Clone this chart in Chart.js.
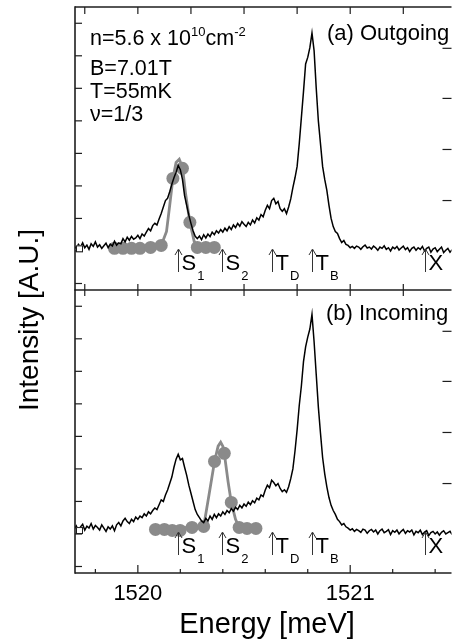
<!DOCTYPE html>
<html>
<head>
<meta charset="utf-8">
<script src="https://cdn.jsdelivr.net/npm/chart.js@4.4.1/dist/chart.umd.min.js"></script>
<style>
html,body{margin:0;padding:0;background:#fff;overflow:hidden;width:458px;height:639px}
canvas{position:absolute;left:0;top:0}
</style>
</head>
<body>
<canvas id="topPanel" width="458" height="639"></canvas>
<canvas id="botPanel" width="458" height="639"></canvas>
<script>
// energy grid of the measured spectra (meV)
const E_START = 1519.70;
const E_STEP = 0.01;

// (a) outgoing spectrum, intensity [A.U.]
const outgoing = [
  1.15,1.08,1.20,1.12,1.25,1.10,1.18,1.05,1.22,1.14,
  1.28,1.12,1.19,1.08,1.16,1.24,1.10,1.21,1.15,1.30,
  1.18,1.25,1.22,1.38,1.28,1.42,1.33,1.45,1.36,1.40,
  1.48,1.38,1.52,1.46,1.58,1.69,1.62,1.78,1.85,1.80,
  1.98,2.15,2.35,2.55,2.62,2.82,3.05,3.25,3.42,3.63,
  3.50,3.20,2.70,2.40,2.10,1.85,1.62,1.45,1.38,1.46,
  1.35,1.50,1.40,1.52,1.44,1.58,1.50,1.62,1.55,1.66,
  1.58,1.70,1.62,1.75,1.66,1.80,1.72,1.85,1.76,1.90,
  1.82,1.75,1.88,1.80,1.95,1.86,2.02,1.95,2.12,2.05,
  2.25,2.40,2.30,2.55,2.62,2.45,2.52,2.30,2.22,2.30,
  2.15,2.35,2.60,2.95,3.25,3.60,4.30,5.10,5.90,6.75,
  6.95,7.25,7.70,7.15,6.00,5.00,4.30,3.60,3.20,2.86,
  2.40,2.00,1.75,1.60,1.54,1.38,1.26,1.32,1.20,1.17,
  1.10,1.14,1.08,1.15,1.12,1.05,1.13,1.18,1.09,1.12,
  1.06,1.15,1.10,1.02,1.12,1.08,1.16,1.05,1.10,1.00,
  1.12,1.07,1.14,1.03,1.09,1.15,1.04,1.10,0.98,1.08,
  1.12,1.02,1.10,1.05,1.14,1.00,1.08,1.12,0.96,1.06,
  1.10,0.98,1.05,1.12,0.95,1.02,1.08,0.96,1.04
];

// (b) incoming spectrum, intensity [A.U.]
const incoming = [
  1.15,1.25,1.10,1.22,1.30,1.12,1.24,1.18,1.32,1.15,
  1.26,1.20,1.12,1.28,1.18,1.08,1.22,1.15,1.25,1.10,
  1.28,1.35,1.25,1.40,1.48,1.38,1.32,1.45,1.38,1.52,
  1.45,1.55,1.50,1.62,1.55,1.68,1.62,1.72,1.80,1.75,
  1.90,2.05,2.00,2.20,2.35,2.55,2.75,3.05,3.30,3.45,
  3.28,3.32,3.05,2.80,2.50,2.25,2.00,1.75,1.60,1.50,
  1.40,1.35,1.48,1.40,1.55,1.45,1.60,1.50,1.62,1.55,
  1.68,1.60,1.72,1.65,1.78,1.70,1.82,1.75,1.88,1.80,
  1.92,1.85,1.98,1.90,2.02,1.96,2.10,2.05,2.20,2.15,
  2.35,2.50,2.42,2.65,2.58,2.48,2.55,2.40,2.30,2.36,
  2.28,2.45,2.70,3.00,3.55,4.20,4.95,5.55,6.30,6.75,
  7.05,7.30,7.75,6.90,5.90,4.90,4.10,3.35,2.85,2.45,
  2.12,1.88,1.72,1.60,1.45,1.38,1.28,1.32,1.22,1.18,
  1.12,1.16,1.08,1.14,1.10,1.05,1.15,1.12,1.02,1.10,
  1.14,1.06,1.12,1.00,1.10,1.15,1.04,1.08,1.13,0.98,
  1.10,1.05,1.12,1.00,1.08,1.14,1.02,1.10,1.06,1.12,
  0.97,1.08,1.04,1.12,0.98,1.06,1.10,0.95,1.04,1.08,
  1.00,1.06,0.96,1.05,1.10,1.00,1.04,1.08,0.98
];

// grey points and fitted line, S1 (outgoing) and S2 (incoming)
const dotsS1E = [1519.89,1519.93,1519.97,1520.01,1520.06,1520.11,1520.165,1520.21,1520.245,1520.28,1520.32,1520.36];
const dotsS1I = [1.08,1.08,1.08,1.08,1.11,1.17,3.23,3.54,1.88,1.11,1.11,1.11];
const fitS1E = [1519.89,1520.11,1520.135,1520.15,1520.165,1520.18,1520.195,1520.21,1520.225,1520.245,1520.265,1520.28,1520.36];
const fitS1I = [1.08,1.17,1.60,2.40,3.23,3.72,3.82,3.58,2.75,1.88,1.30,1.11,1.11];

const dotsS2E = [1520.083,1520.125,1520.162,1520.199,1520.255,1520.31,1520.361,1520.407,1520.44,1520.477,1520.514,1520.556];
const dotsS2I = [1.14,1.14,1.11,1.11,1.20,1.23,3.23,3.48,1.97,1.20,1.17,1.17];
const fitS2E = [1520.083,1520.31,1520.335,1520.361,1520.378,1520.39,1520.40,1520.407,1520.425,1520.44,1520.46,1520.477,1520.556];
const fitS2I = [1.14,1.23,2.20,3.23,3.70,3.82,3.70,3.48,2.60,1.97,1.45,1.20,1.17];

// baseline offset marks on the left axis
const offsetTop = 1.08;
const offsetBot = 1.12;

// axis ticks
const xMin = 1519.704, xMax = 1521.477;
const xLabelTicks = [1520, 1521];
const xMinorTicks = [1519.8, 1520.2, 1520.4, 1520.6, 1520.8, 1521.2, 1521.4];
const xFrameTicks = [1519.75, 1520, 1520.25, 1520.5, 1520.75, 1521, 1521.25];
const yLeftTicks = [0, 1, 2, 3, 4, 5, 6, 7, 8];
const yRightTicks = [2.55, 4.12, 5.69, 7.23];

// line markers under the spectra
const markE = [1520.19, 1520.398, 1520.63, 1520.82, 1521.35];
const markMain = ['S', 'S', 'T', 'T', 'X'];
const markSub = ['1', '2', 'D', 'B', ''];

const energies = outgoing.map((_, i) => +(E_START + i * E_STEP).toFixed(3));
const pts = (xs, ys) => xs.map((x, i) => ({x, y: ys[i]}));

const FONT = '"Liberation Sans", Arial, sans-serif';
const GREY = '#8a8a8a';
const INK = '#1e1e1e';

function runs(ctx, list, x, y){
  list.forEach(r=>{
    ctx.font = r[1] + 'px ' + FONT;
    ctx.fillText(r[0], x, y + (r[2]||0));
    x += ctx.measureText(r[0]).width + (r[3]||0);
  });
}
function seg(ctx, x0, y0, x1, y1){ ctx.beginPath(); ctx.moveTo(x0, y0); ctx.lineTo(x1, y1); ctx.stroke(); }

const framePlugin = {
  id: 'frame',
  afterDatasetsDraw(chart, args, opts){
    const {ctx, chartArea: a, scales: {x, y}} = chart;
    ctx.save();
    ctx.strokeStyle = INK; ctx.fillStyle = '#000';
    ctx.lineWidth = 1.6;
    seg(ctx, a.left, a.top - 0.8, a.left, a.bottom + 0.8);
    ctx.lineWidth = 1.2;
    yLeftTicks.forEach(v=>{ const p = y.getPixelForValue(v); seg(ctx, a.left, p, a.left + 7, p); });
    yRightTicks.forEach(v=>{ const p = y.getPixelForValue(v); seg(ctx, a.right - 9, p, a.right, p); });
    if(opts.panel === 'top'){
      ctx.lineWidth = 1.6;
      seg(ctx, a.left, a.top, a.right, a.top);
      seg(ctx, a.left, a.bottom, a.right, a.bottom);
      ctx.lineWidth = 1.2;
      xFrameTicks.forEach(v=>{ const p = x.getPixelForValue(v); seg(ctx, p, a.top, p, a.top + 7); seg(ctx, p, a.bottom - 6, p, a.bottom + 6); });
    } else {
      ctx.lineWidth = 1.6;
      seg(ctx, a.left, a.bottom, a.right, a.bottom);
      ctx.lineWidth = 1.2;
      xLabelTicks.forEach(v=>{ const p = x.getPixelForValue(v); seg(ctx, p, a.bottom, p, a.bottom - 8); });
      xMinorTicks.forEach(v=>{ const p = x.getPixelForValue(v); seg(ctx, p, a.bottom, p, a.bottom - 4); });
      ctx.textAlign = 'center';
      ctx.font = '22px ' + FONT;
      xLabelTicks.forEach(v=>{ ctx.fillText(String(v), x.getPixelForValue(v), a.bottom + 27); });
      ctx.font = '29px ' + FONT;
      ctx.fillText('Energy [meV]', 267, 633);
      ctx.save();
      ctx.translate(38, 320); ctx.rotate(-Math.PI / 2);
      ctx.font = '28px ' + FONT;
      ctx.fillText('Intensity [A.U.]', 0, 0);
      ctx.restore();
      ctx.textAlign = 'left';
    }
    // baseline offset mark
    const oy = y.getPixelForValue(opts.offset);
    ctx.lineWidth = 1; ctx.fillStyle = '#fff';
    ctx.fillRect(76, oy - 3, 6, 6); ctx.strokeRect(76.5, oy - 2.5, 6, 6);
    ctx.fillStyle = '#000';
    // arrows with line names
    const base = a.bottom - 20;
    markE.forEach((e, i)=>{
      const p = Math.round(x.getPixelForValue(e)) + 0.5;
      ctx.strokeStyle = '#333'; ctx.lineWidth = 1;
      seg(ctx, p, base + 2, p, base - 20);
      ctx.beginPath(); ctx.moveTo(p - 3.5, base - 15); ctx.lineTo(p, base - 21); ctx.lineTo(p + 3.5, base - 15); ctx.stroke();
      runs(ctx, [[markMain[i], 22, 0, 1], [markSub[i], 13, 10]], p + 3, base);
    });
    // panel texts
    if(opts.panel === 'top'){
      runs(ctx, [['n=5.6 x 10', 21.5], ['10', 13, -9], ['cm', 21.5], ['-2', 13, -9]], 90, 45);
      runs(ctx, [['B=7.01T', 21.5]], 90, 75);
      runs(ctx, [['T=55mK', 21.5]], 90, 98);
      runs(ctx, [['\u03bd=1/3', 21.5]], 90, 121);
      runs(ctx, [['(a) Outgoing', 22]], 327, 40);
    } else {
      runs(ctx, [['(b) Incoming', 22]], 326, 320);
    }
    ctx.restore();
  }
};

function panel(canvasId, spectrum, fitE, fitI, dotE, dotI, pad, name, offset){
  return new Chart(document.getElementById(canvasId), {
    type: 'line',
    data: {
      datasets: [
        { data: pts(energies, spectrum), borderColor: '#000', borderWidth: 1.5, pointRadius: 0, tension: 0, order: 0 },
        { data: pts(fitE, fitI), borderColor: GREY, borderWidth: 2.8, pointRadius: 0, tension: 0, order: 2 },
        { data: pts(dotE, dotI), showLine: false, pointRadius: 6.5, pointBackgroundColor: GREY, pointBorderWidth: 0, order: 1 }
      ]
    },
    options: {
      responsive: false,
      devicePixelRatio: 1,
      animation: false,
      events: [],
      layout: { padding: pad },
      plugins: { legend: { display: false }, tooltip: { enabled: false }, frame: { panel: name, offset } },
      scales: {
        x: { type: 'linear', min: xMin, max: xMax, display: false },
        y: { type: 'linear', min: -0.2, max: 8.5, display: false }
      }
    },
    plugins: [framePlugin]
  });
}

panel('topPanel', outgoing, fitS1E, fitS1I, dotsS1E, dotsS1I, {left: 75, right: 0, top: 7, bottom: 349}, 'top', offsetTop);
panel('botPanel', incoming, fitS2E, fitS2I, dotsS2E, dotsS2I, {left: 75, right: 0, top: 290, bottom: 66}, 'bot', offsetBot);
</script>
</body>
</html>
